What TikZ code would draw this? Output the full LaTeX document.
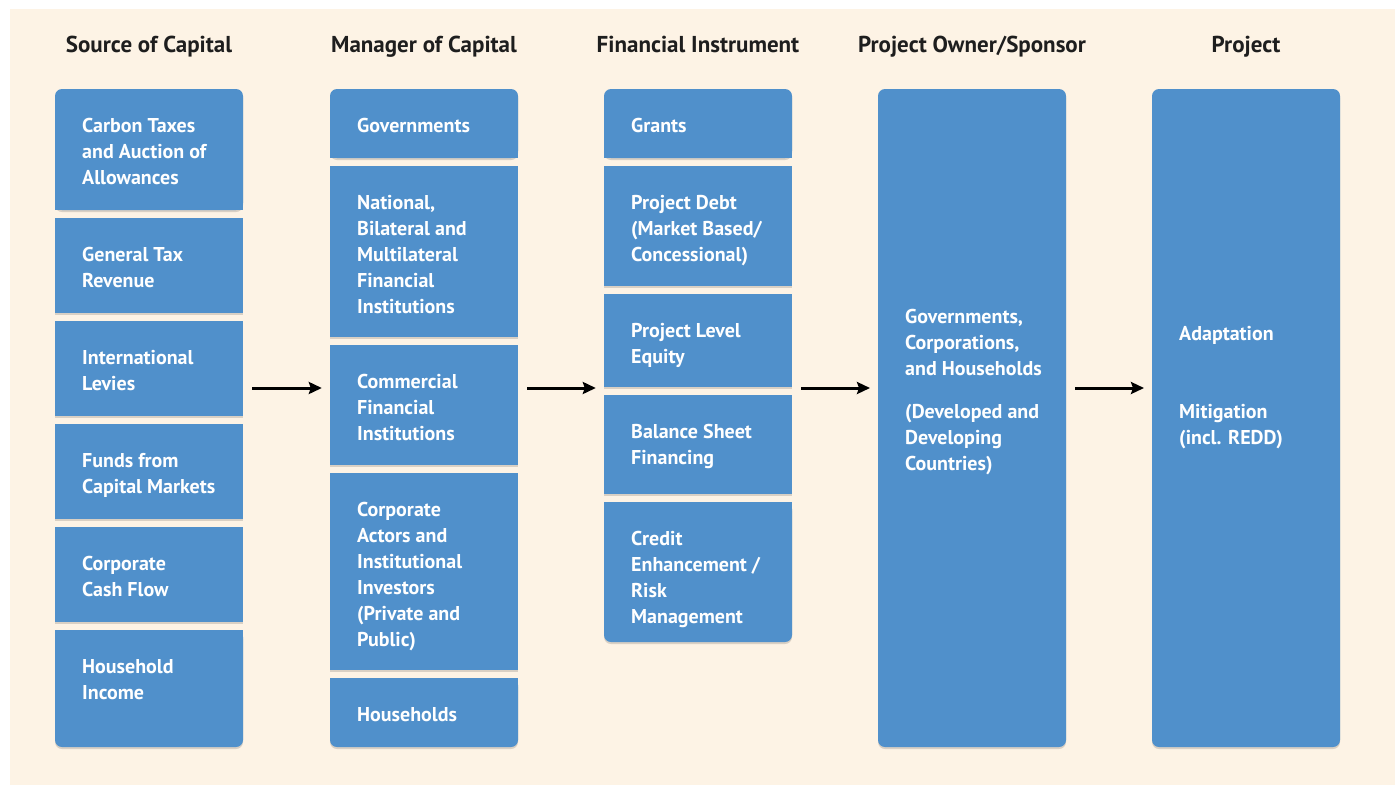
\documentclass[tikz,border=0pt]{standalone}
\usepackage{fontspec}
\setmainfont{PT Sans}
\usetikzlibrary{arrows.meta, positioning, fit, shadows}
\definecolor{cBlue}{HTML}{5090CB}
\definecolor{cCream}{HTML}{FDF3E5}
\definecolor{cInk}{HTML}{1E1E1E}
\tikzset{
  cell/.style={
    rectangle, fill=cBlue, minimum width=188pt, inner sep=0pt, outer sep=0pt,
    anchor=north west,
    drop shadow={shadow xshift=0pt, shadow yshift=-2pt, opacity=0.14, fill=black}
  },
  topcell/.style={cell, rounded corners=7pt},
  txt/.style={anchor=north west, inner sep=0pt, align=left, text=white,
              font=\bfseries\fontsize{20}{26}\selectfont},
  head/.style={anchor=base, inner sep=0pt, text=cInk,
               font=\bfseries\fontsize{23}{28}\selectfont},
  arrow/.style={-{Stealth[length=13pt, width=12pt, inset=2pt]}, line width=3pt,
                black, shorten <=9pt, shorten >=8pt},
}

\begin{document}
\begin{tikzpicture}[x=1pt, y=-1pt]

  % Background
  \path[use as bounding box] (0,0) rectangle (1395,785);
  \fill[cCream] (10,9) rectangle (1395,785);
  \coordinate (flow) at (0,388);

  % Source of Capital
  \node[topcell, minimum height=121pt] (carbon) at (55,89) {};
  \fill[cBlue] (carbon.west) rectangle (carbon.south east);
  \node[cell, minimum height=95pt, below=8pt of carbon] (gentax) {};
  \node[cell, minimum height=95pt, below=8pt of gentax] (levies) {};
  \node[cell, minimum height=95pt, below=8pt of levies] (funds) {};
  \node[cell, minimum height=95pt, below=8pt of funds] (cash) {};
  \node[topcell, minimum height=117pt, below=8pt of cash] (income) {};
  \fill[cBlue] (income.north west) rectangle (income.east);

  \node[txt] (t-carbon) at ([xshift=27pt, yshift=-29pt]carbon.north west) {Carbon Taxes\\and Auction of\\Allowances};
  \node[txt] (t-gentax) at ([xshift=27pt, yshift=-29pt]gentax.north west) {General Tax\\Revenue};
  \node[txt] (t-levies) at ([xshift=27pt, yshift=-29pt]levies.north west) {International\\Levies};
  \node[txt] (t-funds) at ([xshift=27pt, yshift=-29pt]funds.north west) {Funds from\\Capital Markets};
  \node[txt] (t-cash) at ([xshift=27pt, yshift=-29pt]cash.north west) {Corporate\\Cash Flow};
  \node[txt] (t-income) at ([xshift=27pt, yshift=-29pt]income.north west) {Household\\Income};

  % Manager of Capital
  \node[topcell, minimum height=69pt, right=87pt of carbon.north east, anchor=north west] (gov) {};
  \fill[cBlue] (gov.west) rectangle (gov.south east);
  \node[cell, minimum height=171pt, below=8pt of gov] (banks) {};
  \node[cell, minimum height=120pt, below=8pt of banks] (commercial) {};
  \node[cell, minimum height=197pt, below=8pt of commercial] (corporate) {};
  \node[topcell, minimum height=69pt, below=8pt of corporate] (homes) {};
  \fill[cBlue] (homes.north west) rectangle (homes.east);

  \node[txt] (t-gov) at ([xshift=27pt, yshift=-29pt]gov.north west) {Governments};
  \node[txt] (t-banks) at ([xshift=27pt, yshift=-29pt]banks.north west) {National,\\Bilateral and\\Multilateral\\Financial\\Institutions};
  \node[txt] (t-commercial) at ([xshift=27pt, yshift=-29pt]commercial.north west) {Commercial\\Financial\\Institutions};
  \node[txt] (t-corporate) at ([xshift=27pt, yshift=-29pt]corporate.north west) {Corporate\\Actors and\\Institutional\\Investors\\(Private and\\Public)};
  \node[txt] (t-homes) at ([xshift=27pt, yshift=-29pt]homes.north west) {Households};

  % Financial Instrument
  \node[topcell, minimum height=69pt, right=86pt of gov.north east, anchor=north west] (grants) {};
  \fill[cBlue] (grants.west) rectangle (grants.south east);
  \node[cell, minimum height=120pt, below=8pt of grants] (debt) {};
  \node[cell, minimum height=93pt, below=8pt of debt] (equity) {};
  \node[cell, minimum height=99pt, below=8pt of equity] (balance) {};
  \node[topcell, minimum height=140pt, below=8pt of balance] (credit) {};
  \fill[cBlue] (credit.north west) rectangle (credit.east);

  \node[txt] (t-grants) at ([xshift=27pt, yshift=-29pt]grants.north west) {Grants};
  \node[txt] (t-debt) at ([xshift=27pt, yshift=-29pt]debt.north west) {Project Debt\\(Market Based/\\Concessional)};
  \node[txt] (t-equity) at ([xshift=27pt, yshift=-29pt]equity.north west) {Project Level\\Equity};
  \node[txt] (t-balance) at ([xshift=27pt, yshift=-29pt]balance.north west) {Balance Sheet\\Financing};
  \node[txt] (t-credit) at ([xshift=27pt, yshift=-29pt]credit.north west) {Credit\\Enhancement /\\Risk\\Management};

  % Project Owner/Sponsor and Project
  \node[topcell, minimum height=658pt, right=86pt of grants.north east, anchor=north west] (owner) {};
  \node[topcell, minimum height=658pt, right=86pt of owner.north east, anchor=north west] (project) {};

  \node[txt] (t-owner) at ([xshift=27pt, yshift=-220pt]owner.north west) {Governments,\\Corporations,\\and Households\\[17pt](Developed and\\Developing\\Countries)};
  \node[txt] (t-project) at ([xshift=27pt, yshift=-237pt]project.north west) {Adaptation\\[52pt]Mitigation\\(incl. REDD)};

  % Column heads
  \node[head] (h-source) at (carbon.north |- 0,52) {Source of Capital};
  \node[head] (h-manager) at (gov.north |- 0,52) {Manager of Capital};
  \node[head] (h-instrument) at (grants.north |- 0,52) {Financial Instrument};
  \node[head] (h-owner) at (owner.north |- 0,52) {Project Owner/Sponsor};
  \node[head] (h-project) at (project.north |- 0,52) {Project};

  % Columns
  \node[fit=(carbon)(income), inner sep=0pt] (source) {};
  \node[fit=(gov)(homes), inner sep=0pt] (manager) {};
  \node[fit=(grants)(credit), inner sep=0pt] (instrument) {};

  % Arrows
  \draw[arrow] (source.east |- flow) -- (manager.west |- flow);
  \draw[arrow] (manager.east |- flow) -- (instrument.west |- flow);
  \draw[arrow] (instrument.east |- flow) -- (owner.west |- flow);
  \draw[arrow] (owner.east |- flow) -- (project.west |- flow);

\end{tikzpicture}
\end{document}
